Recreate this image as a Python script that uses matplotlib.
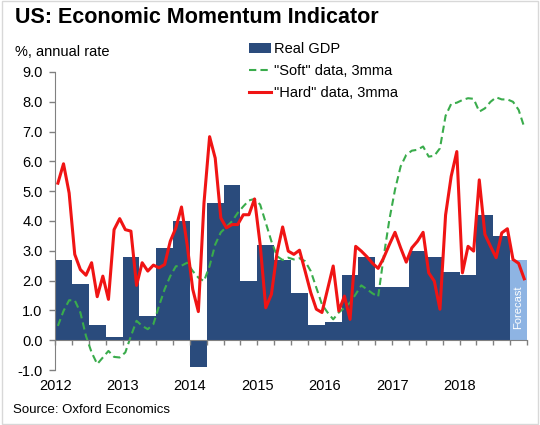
import numpy as np
import matplotlib
matplotlib.use("Agg")
import matplotlib.pyplot as plt
from matplotlib.patches import Patch, Rectangle
from matplotlib.lines import Line2D

plt.rcParams['font.family'] = ['Liberation Sans', 'DejaVu Sans']

# quarterly real GDP, 2012Q1 .. 2018Q4 (last one is a forecast)
gdp = [2.7, 1.9, 0.5, 0.1,
       2.8, 0.8, 3.1, 4.0,
       -0.9, 4.6, 5.2, 2.0,
       3.2, 2.7, 1.6, 0.5,
       0.6, 2.2, 2.8, 1.8,
       1.8, 3.0, 2.8, 2.3,
       2.2, 4.2, 3.5, 2.7]
n_forecast = 1

# monthly "hard" data, 3mma, Jan 2012 .. Dec 2018
hard = [5.27, 5.92, 4.94, 2.88, 2.37, 2.18, 2.60, 1.46, 2.15, 1.37, 3.71, 4.08,
        3.71, 3.66, 1.84, 2.60, 2.32, 2.52, 2.43, 2.54, 3.32, 3.77, 4.47, 3.21,
        1.71, 0.96, 4.60, 6.83, 6.11, 4.10, 3.77, 3.88, 3.88, 4.21, 4.21, 4.74,
        3.21, 1.09, 1.54, 2.93, 3.80, 2.99, 2.88, 3.02, 2.32, 1.60, 1.04, 0.93,
        1.71, 2.49, 0.98, 1.48, 0.70, 3.15, 2.99, 2.80, 2.58, 2.41, 2.77, 3.21,
        3.62, 3.10, 2.62, 3.10, 3.32, 3.62, 2.26, 1.98, 1.04, 4.20, 5.50, 6.33,
        2.26, 3.15, 2.99, 5.38, 3.55, 3.15, 2.77, 3.60, 3.74, 2.71, 2.58, 2.06]

# monthly "soft" data, 3mma
soft = [0.48, 0.98, 1.34, 1.34, 0.93, 0.14, -0.41, -0.80, -0.58, -0.36, -0.56, -0.58,
        -0.41, 0.14, 0.65, 0.48, 0.37, 0.54, 1.15, 1.71, 2.15, 2.48, 2.50, 2.60,
        2.32, 2.10, 1.98, 2.49, 3.21, 3.62, 3.80, 3.99, 4.27, 4.49, 4.69, 4.74,
        4.55, 3.94, 3.32, 2.82, 2.69, 2.77, 2.71, 2.75, 2.65, 2.32, 1.76, 1.20,
        0.93, 0.70, 0.93, 1.09, 1.26, 1.54, 1.84, 1.71, 1.57, 1.46, 2.82, 4.05,
        5.05, 5.83, 6.22, 6.36, 6.39, 6.50, 6.16, 6.19, 6.44, 7.53, 7.93, 7.97,
        8.06, 8.12, 8.10, 7.67, 7.78, 8.00, 8.15, 8.08, 8.08, 8.00, 7.73, 7.15]

years = list(range(2012, 2019))
start = 2012

navy = '#2a4b7c'
light = '#8eb4e3'
red = '#f01414'
green = '#3aac4c'
grey = '#808080'

fig = plt.figure(figsize=(5.4, 4.25), dpi=100)
ax = fig.add_axes([0.102, 0.1294, 0.874, 0.7012])

xq = start + (np.arange(len(gdp)) + 0.5) / 4
colors = [navy] * (len(gdp) - n_forecast) + [light] * n_forecast
ax.bar(xq, gdp, width=0.25, color=colors, zorder=1)

xm = start + (np.arange(len(hard)) + 0.5) / 12
ax.plot(xm, soft, color=green, lw=1.5, ls=(0, (3.5, 2)), zorder=2)
ax.plot(xm, hard, color=red, lw=2.2, zorder=3)

ax.set_xlim(2012, 2019)
ax.set_ylim(-1, 9)
ax.set_yticks(np.arange(-1, 10, 1))
ax.yaxis.set_major_formatter(matplotlib.ticker.FormatStrFormatter('%.1f'))
ax.tick_params(axis='y', direction='out', length=4, width=1, color=grey,
               labelsize=10.5, pad=5)

ax.spines['bottom'].set_position(('data', 0))
ax.spines['bottom'].set_color(grey)
ax.spines['left'].set_color(grey)
ax.spines['top'].set_visible(False)
ax.spines['right'].set_visible(False)
ax.set_xticks(np.arange(2012, 2019.01, 0.25))
ax.tick_params(axis='x', direction='out', length=3.5, width=1, color=grey,
               labelbottom=False)

for y in years:
    ax.text(y, -1.55, str(y), ha='center', va='center', fontsize=10.5,
            clip_on=False)

ax.text(start + (len(gdp) - 0.5) / 4, 1.1, 'Forecast', rotation=90,
        color='white', fontsize=8, ha='center', va='center')

handles = [Patch(facecolor=navy),
           Line2D([], [], color=green, lw=1.5, ls=(0, (3.5, 2))),
           Line2D([], [], color=red, lw=2.2)]
labels = ['Real GDP', '"Soft" data, 3mma', '"Hard" data, 3mma']
fig.legend(handles, labels, loc='upper left', bbox_to_anchor=(0.45, 0.915),
           frameon=False, fontsize=10.5, handlelength=1.5, handletextpad=0.25,
           labelspacing=0.55, borderaxespad=0)

fig.text(0.028, 0.945, 'US: Economic Momentum Indicator', fontsize=15.5,
         fontweight='bold', va='baseline')
fig.text(0.028, 0.878, '%, annual rate', fontsize=10.5, va='center')
fig.text(0.024, 0.035, 'Source: Oxford Economics', fontsize=9.5, va='center')

fig.patches.append(Rectangle((0.004, 0.003), 0.992, 0.994, transform=fig.transFigure,
                             fill=False, edgecolor='#d8d8d8', lw=1))

fig.savefig('out.png', dpi=100)
